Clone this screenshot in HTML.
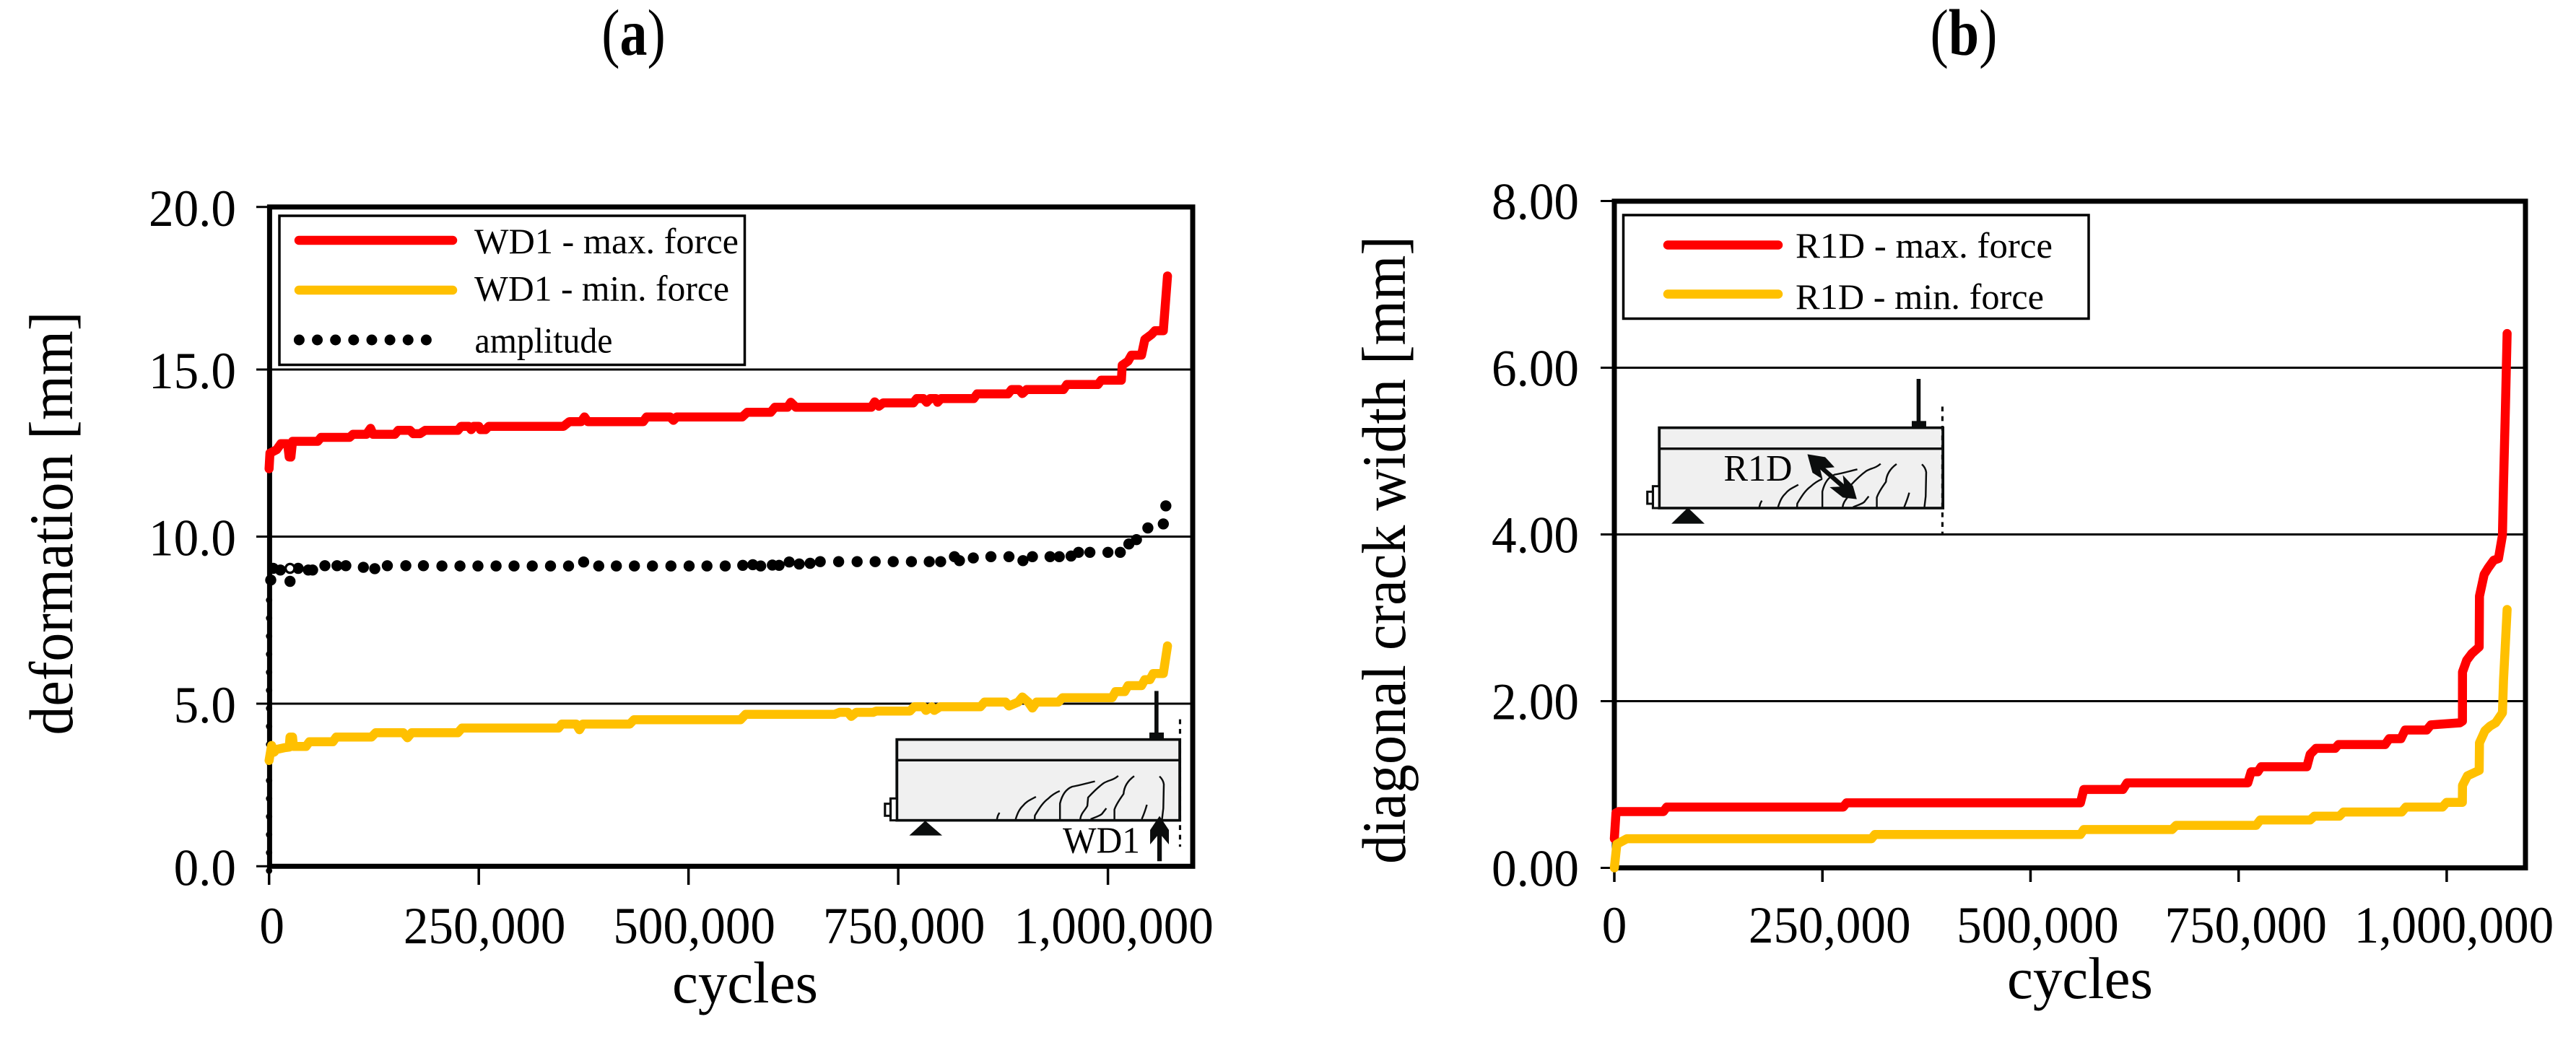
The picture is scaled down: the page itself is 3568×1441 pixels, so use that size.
<!DOCTYPE html>
<html lang="en">
<head>
<meta charset="utf-8">
<title>Deformation and diagonal crack width vs cycles</title>
<style>
html,body{margin:0;padding:0;background:#fff;}
svg{display:block;}
text{font-family:"Liberation Serif",serif;fill:#000;}
</style>
</head>
<body>
<svg id="chart" xmlns="http://www.w3.org/2000/svg" width="3568" height="1441" viewBox="0 0 3568 1441">
  <rect x="0" y="0" width="3568" height="1441" fill="#fff"/>
  <text transform="translate(877.5,76) scale(1,1.2)" font-size="76" text-anchor="middle">(<tspan font-weight="bold">a</tspan>)</text>
  <text transform="translate(2720,76) scale(1,1.2)" font-size="76" text-anchor="middle">(<tspan font-weight="bold">b</tspan>)</text>

  <text transform="translate(100,725) rotate(-90)" font-size="86" text-anchor="middle" textLength="587" lengthAdjust="spacingAndGlyphs">deformation [mm]</text>
  <text x="1032" y="1389" font-size="82" text-anchor="middle" textLength="202" lengthAdjust="spacingAndGlyphs">cycles</text>
  <text transform="translate(1946,762) rotate(-90)" font-size="86" text-anchor="middle" textLength="870" lengthAdjust="spacingAndGlyphs">diagonal crack width [mm]</text>
  <text x="2881" y="1383" font-size="82" text-anchor="middle" textLength="202" lengthAdjust="spacingAndGlyphs">cycles</text>

  <g id="panelA"></g>
  <g id="panelB"></g>

  <g>
    <rect x="387" y="299" width="644.5" height="206.5" fill="#fff" stroke="#000" stroke-width="3.5"/>
    <line x1="414" y1="333" x2="627" y2="333" stroke="#ff0000" stroke-width="12.5" stroke-linecap="round"/>
    <text x="657" y="351" font-size="50" textLength="366" lengthAdjust="spacingAndGlyphs">WD1 - max. force</text>
    <line x1="414" y1="402" x2="627" y2="402" stroke="#ffc000" stroke-width="12.5" stroke-linecap="round"/>
    <text x="657" y="416.5" font-size="50" textLength="353" lengthAdjust="spacingAndGlyphs">WD1 - min. force</text>
    <line x1="414.4" y1="471" x2="615.5" y2="471" stroke="#000" stroke-width="15" stroke-linecap="round" stroke-dasharray="0 25.14"/>
    <text x="657.5" y="488.5" font-size="50" textLength="191" lengthAdjust="spacingAndGlyphs">amplitude</text>
  </g>

  <g>
    <rect x="2248.5" y="298" width="644.5" height="143.5" fill="#fff" stroke="#000" stroke-width="3.5"/>
    <line x1="2310" y1="339.5" x2="2463" y2="339.5" stroke="#ff0000" stroke-width="12.5" stroke-linecap="round"/>
    <text x="2487" y="357" font-size="50" textLength="356" lengthAdjust="spacingAndGlyphs">R1D - max. force</text>
    <line x1="2310" y1="407.5" x2="2463" y2="407.5" stroke="#ffc000" stroke-width="12.5" stroke-linecap="round"/>
    <text x="2487" y="428" font-size="50" textLength="344" lengthAdjust="spacingAndGlyphs">R1D - min. force</text>
  </g>

  <g transform="translate(1150,920) scale(0.3508,0.3333)">
    <rect x="263" y="314" width="1117" height="336" fill="#f0f0f0" stroke="#0b0d0d" stroke-width="11"/>
    <line x1="263" y1="400" x2="1378" y2="400" stroke="#0b0d0d" stroke-width="10"/>
    <line x1="1288" y1="112" x2="1288" y2="290" stroke="#0b0d0d" stroke-width="16"/>
    <rect x="1260" y="285" width="57" height="30" fill="#0b0d0d"/>
    <line x1="1381" y1="230" x2="1381" y2="760" stroke="#0b0d0d" stroke-width="9" stroke-dasharray="20 20"/>
    <rect x="238" y="559" width="25" height="91" fill="#fff" stroke="#0b0d0d" stroke-width="9"/>
    <rect x="216" y="581" width="22" height="50" fill="#fff" stroke="#0b0d0d" stroke-width="9"/>
    <polygon points="375,652 442,713 312,713" fill="#0b0d0d"/>
    <path fill="none" stroke="#0b0d0d" stroke-width="7" d="M658,645 L662,630 L668,618 M732,645 C738,625 745,605 760,590 C775,570 790,565 812,552 M807,645 L808,630 C825,600 840,575 860,560 C875,545 890,535 906,528 M907,645 L907,580 C915,545 930,520 955,510 C985,505 1015,495 1045,488 M987,645 C990,620 1005,610 1015,590 L1018,555 C1040,530 1060,510 1080,495 C1100,482 1115,485 1137,465 M1028,645 C1050,635 1070,630 1075,620 L1090,600 M1122,645 L1122,605 C1130,580 1145,560 1158,540 C1160,510 1175,485 1200,466 M1230,645 C1240,620 1245,605 1250,585 M1310,645 L1315,600 L1317,500 C1315,485 1308,475 1300,467"/>
    <polygon points="1300,632 1337,690 1337,750 1309,715 1309,820 1291,820 1291,715 1263,750 1263,690" fill="#0b0d0d"/>
  </g>
  <text x="1472" y="1181.5" font-size="52" fill="#111" textLength="107" lengthAdjust="spacingAndGlyphs">WD1</text>

  <g transform="translate(2200,520) scale(0.3508,0.3333)">
    <rect x="280" y="218" width="1120" height="334" fill="#f0f0f0" stroke="#0b0d0d" stroke-width="11"/>
    <line x1="280" y1="305" x2="1396" y2="305" stroke="#0b0d0d" stroke-width="10"/>
    <line x1="1304" y1="15" x2="1304" y2="195" stroke="#0b0d0d" stroke-width="16"/>
    <rect x="1277" y="190" width="57" height="29" fill="#0b0d0d"/>
    <line x1="1398" y1="130" x2="1398" y2="660" stroke="#0b0d0d" stroke-width="9" stroke-dasharray="20 20"/>
    <rect x="255" y="461" width="25" height="91" fill="#fff" stroke="#0b0d0d" stroke-width="9"/>
    <rect x="233" y="484" width="22" height="50" fill="#fff" stroke="#0b0d0d" stroke-width="9"/>
    <polygon points="393,550 459,617 328,617" fill="#0b0d0d"/>
    <path transform="translate(17,-97)" fill="none" stroke="#0b0d0d" stroke-width="7" d="M658,645 L662,630 L668,618 M732,645 C738,625 745,605 760,590 C775,570 790,565 812,552 M807,645 L808,630 C825,600 840,575 860,560 C875,545 890,535 906,528 M907,645 L907,580 C915,545 930,520 955,510 C985,505 1015,495 1045,488 M987,645 C990,620 1005,610 1015,590 L1018,555 C1040,530 1060,510 1080,495 C1100,482 1115,485 1137,465 M1028,645 C1050,635 1070,630 1075,620 L1090,600 M1122,645 L1122,605 C1130,580 1145,560 1158,540 C1160,510 1175,485 1200,466 M1230,645 C1240,620 1245,605 1250,585 M1310,645 L1315,600 L1317,500 C1315,485 1308,475 1300,467"/>
    <line x1="900" y1="365" x2="1025" y2="480" stroke="#0b0d0d" stroke-width="18"/>
    <polygon points="865,328 935,340 972,382 915,388 925,432 885,405" fill="#0b0d0d"/>
    <polygon points="1060,515 1005,508 953,465 1010,462 1005,415 1045,460" fill="#0b0d0d"/>
  </g>
  <text x="2387.5" y="666" font-size="52" fill="#111" textLength="95" lengthAdjust="spacingAndGlyphs">R1D</text>
</svg>

<script>
// X values are in thousands of cycles.
const xTicks = [0, 250, 500, 750, 1000];
const xTickLabels = ["0", "250,000", "500,000", "750,000", "1,000,000"];

const aYTicks = [0, 5, 10, 15, 20];
const aYTickLabels = ["0.0", "5.0", "10.0", "15.0", "20.0"];

const bYTicks = [0, 2, 4, 6, 8];
const bYTickLabels = ["0.00", "2.00", "4.00", "6.00", "8.00"];

const aMaxCycles = [0,1,9,14,22,24,26,28,58,62,96,100,116,121,124,150,154,168,172,180,186,225,229,238,241,244,250,252,258,262,351,358,372,376,380,446,450,478,482,486,564,570,598,603,618,622,628,718,722,727,732,768,772,780,784,788,795,797,801,840,844,881,885,894,898,903,947,951,988,992,1016,1017,1024,1028,1040,1044,1052,1056,1066,1071];
const aMaxValues = [12.03,12.5,12.6,12.78,12.78,12.38,12.38,12.85,12.85,12.97,12.97,13.06,13.06,13.24,13.06,13.06,13.18,13.18,13.08,13.08,13.18,13.18,13.3,13.3,13.2,13.3,13.3,13.2,13.2,13.3,13.3,13.44,13.44,13.58,13.44,13.44,13.58,13.58,13.48,13.58,13.58,13.72,13.72,13.87,13.87,14.02,13.87,13.87,14.03,13.9,14.0,14.0,14.13,14.13,14.02,14.13,14.13,14.02,14.13,14.13,14.27,14.27,14.4,14.4,14.28,14.4,14.4,14.55,14.55,14.68,14.68,15.13,15.25,15.43,15.43,15.9,16.05,16.16,16.16,17.8];

const aMinCycles = [0,3,6,9,18,24,25,28,29,44,48,76,80,122,127,160,165,170,225,230,345,349,366,370,374,430,435,562,568,674,680,690,694,700,704,720,724,764,769,780,783,790,793,800,803,848,853,878,882,893,898,905,910,915,941,946,1005,1009,1020,1024,1040,1044,1050,1054,1066,1071];
const aMinValues = [3.3,3.75,3.55,3.63,3.68,3.7,4.0,4.0,3.72,3.72,3.86,3.86,4.0,4.0,4.13,4.13,3.98,4.13,4.13,4.27,4.27,4.39,4.39,4.22,4.39,4.39,4.52,4.52,4.68,4.68,4.74,4.74,4.62,4.74,4.74,4.74,4.78,4.78,4.91,4.91,4.8,4.91,4.8,4.91,4.91,4.91,5.05,5.05,4.93,5.05,5.2,5.05,4.87,5.05,5.05,5.18,5.18,5.36,5.36,5.54,5.54,5.72,5.72,5.9,5.9,6.73];

// Amplitude readings on the rise along the y axis, hidden almost entirely behind the axis line.
const aRiseCycles = [0,0,0,0,0,0,0,0,0,0,0,0,0,0,0,0];
const aRiseValues = [0,0.54,1.08,1.62,2.16,2.7,3.24,3.78,4.32,4.86,5.4,5.94,6.48,7.02,7.56,8.1];

const aAmpCycles = [2,5,13.4,25,25,34.7,46.7,51.9,66.5,81,91.5,112.4,126,141,163,184,206,227.6,249,270.6,292,313.7,335.5,357,375,393,414,435.5,457,479,500.7,522,543.8,564.7,576.6,586,600,608,620,632,645,657,679,701,722.5,744,765.7,787,800.6,817,823,839.5,860.5,882,898.7,910,931,942,956,965,978.5,1000,1014.7,1025,1034,1047.6,1066,1069];
const aAmpValues = [8.7,9.05,9.0,8.66,9.05,9.05,9.0,9.0,9.13,9.13,9.13,9.08,9.04,9.13,9.13,9.13,9.12,9.12,9.12,9.12,9.12,9.12,9.12,9.12,9.24,9.12,9.12,9.12,9.12,9.12,9.12,9.12,9.12,9.14,9.16,9.12,9.15,9.14,9.24,9.18,9.2,9.25,9.25,9.25,9.25,9.25,9.25,9.25,9.25,9.4,9.28,9.36,9.4,9.4,9.28,9.4,9.4,9.4,9.42,9.53,9.53,9.53,9.53,9.78,9.91,10.26,10.38,10.92];

// The one reading drawn as an open ring.
const aOpenCycles = [25];
const aOpenValues = [9.05];

const bMaxCycles = [0,2,5,59,63,275,279,560,564,568,611,616,761,765,773,777,832,836,843,866,870,926,931,945,950,976,981,1016,1018.9,1019,1024,1030,1039,1039.4,1045,1050,1056.5,1062.2,1067,1068.3,1070.6,1072.6];
const bMaxValues = [0.35,0.66,0.675,0.675,0.73,0.73,0.78,0.78,0.94,0.94,0.94,1.02,1.02,1.152,1.152,1.213,1.213,1.363,1.434,1.434,1.48,1.48,1.55,1.55,1.654,1.654,1.715,1.74,1.76,2.35,2.49,2.57,2.65,3.26,3.52,3.6,3.69,3.71,3.99,4.6,5.54,6.41];

const bMinCycles = [0,3,15,309,313,560,564,670,675,771,776,836,841,871,876,946,951,995,1000,1018.8,1019,1025,1039,1039.4,1046,1052,1058.8,1067,1068.3,1072.6];
const bMinValues = [0,0.285,0.35,0.35,0.40,0.40,0.46,0.46,0.51,0.51,0.575,0.575,0.62,0.62,0.67,0.67,0.73,0.73,0.786,0.786,0.99,1.105,1.17,1.5,1.645,1.7,1.74,1.86,2.25,3.1];

const SVG_NS = "http://www.w3.org/2000/svg";

// Panel A axis functions. The drawn frame sits slightly inside the 0 and 20 grid positions.
function xA(k) { return 372.7 + 1.1619 * k; }
function yA(v) { return Math.min(1200.3, Math.max(286.8, 1206.5 - 46.3 * v)); }
function yAFree(v) { return 1206.5 - 46.3 * v; }

// Panel B axis functions.
function xB(k) { return 2236 + 1.1529 * k; }
function yB(v) { return 1202.5 - 115.5 * v; }

function seg(parent, x1, y1, x2, y2, width, name) {
  const el = document.createElementNS(SVG_NS, "line");
  
  
  el.setAttribute("x1", x1);
  el.setAttribute("y1", y1);
  el.setAttribute("x2", x2);
  el.setAttribute("y2", y2);
  el.setAttribute("stroke", "#000");
  el.setAttribute("stroke-width", width);
  parent.appendChild(el);
  return el;
}

function label(parent, x, y, str, anchor, name) {
  const el = document.createElementNS(SVG_NS, "text");
  
  
  el.setAttribute("x", x);
  el.setAttribute("y", y);
  el.setAttribute("font-size", "72");
  el.setAttribute("text-anchor", anchor);
  el.textContent = str;
  parent.appendChild(el);
  const w = el.getComputedTextLength();
  el.setAttribute("textLength", (w * 0.96).toFixed(1));
  el.setAttribute("lengthAdjust", "spacingAndGlyphs");
  return el;
}

function seriesLine(parent, cycles, values, xf, yf, color, name) {
  let d = "";
  for (let i = 0; i < cycles.length; i++) {
    d += (i ? "L" : "M") + xf(cycles[i]).toFixed(1) + "," + yf(values[i]).toFixed(1);
  }
  const el = document.createElementNS(SVG_NS, "path");
  
  
  el.setAttribute("d", d);
  el.setAttribute("fill", "none");
  el.setAttribute("stroke", color);
  el.setAttribute("stroke-width", "12.5");
  el.setAttribute("stroke-linejoin", "round");
  el.setAttribute("stroke-linecap", "round");
  parent.appendChild(el);
  return el;
}

function seriesDots(parent, cycles, values, xf, yf, radius, color, name) {
  for (let i = 0; i < cycles.length; i++) {
    const el = document.createElementNS(SVG_NS, "circle");
    
    
    el.setAttribute("cx", xf(cycles[i]).toFixed(1));
    el.setAttribute("cy", yf(values[i]).toFixed(1));
    el.setAttribute("r", radius);
    el.setAttribute("fill", color);
    parent.appendChild(el);
  }
}

function frame(parent, left, top, right, bottom, prefix) {
  const el = document.createElementNS(SVG_NS, "rect");
  
  
  el.setAttribute("x", left);
  el.setAttribute("y", top);
  el.setAttribute("width", right - left);
  el.setAttribute("height", bottom - top);
  el.setAttribute("fill", "none");
  el.setAttribute("stroke", "#000");
  el.setAttribute("stroke-width", "7");
  parent.appendChild(el);
}

const gA = document.getElementById("panelA");
const gB = document.getElementById("panelB");

// Panel A
aYTicks.forEach(function (v, i) {
  seg(gA, 355, yA(v), 1652, yA(v), 3, "panel-a-gridline-" + v);
  label(gA, 327, yA(v) + 26, aYTickLabels[i], "end", "panel-a-y-tick-label");
});
xTicks.forEach(function (k, i) {
  seg(gA, xA(k), 1200, xA(k), 1226, 3.5, "panel-a-x-tick-" + k);
  label(gA, xA(k) + (k === 0 ? 4 : 8), 1307, xTickLabels[i], "middle", "panel-a-x-tick-label");
});
frame(gA, 373.4, 286.8, 1652, 1200.3, "panel-a");
seriesDots(gA, aRiseCycles, aRiseValues, xA, yAFree, 4.4, "#000", "amplitude-rise-point");
seriesDots(gA, aAmpCycles, aAmpValues, xA, yAFree, 7.7, "#000", "amplitude-point");
seriesDots(gA, aOpenCycles, aOpenValues, xA, yAFree, 4.5, "#fff", "amplitude-open-point-center");
seriesLine(gA, aMaxCycles, aMaxValues, xA, yAFree, "#ff0000", "wd1-max-force-line");
seriesLine(gA, aMinCycles, aMinValues, xA, yAFree, "#ffc000", "wd1-min-force-line");

// Panel B
bYTicks.forEach(function (v, i) {
  seg(gB, 2217, yB(v), 3498, yB(v), 3, "panel-b-gridline-" + v);
  label(gB, 2187, yB(v) + 25, bYTickLabels[i], "end", "panel-b-y-tick-label");
});
xTicks.forEach(function (k, i) {
  seg(gB, xB(k), 1202, xB(k), 1222, 3.5, "panel-b-x-tick-" + k);
  label(gB, xB(k) + (k === 0 ? 0 : 10), 1306, xTickLabels[i], "middle", "panel-b-x-tick-label");
});
frame(gB, 2236, 278.8, 3498, 1202.5, "panel-b");
seriesLine(gB, bMaxCycles, bMaxValues, xB, yB, "#ff0000", "r1d-max-force-line");
seriesLine(gB, bMinCycles, bMinValues, xB, yB, "#ffc000", "r1d-min-force-line");
</script>
</body>
</html>
